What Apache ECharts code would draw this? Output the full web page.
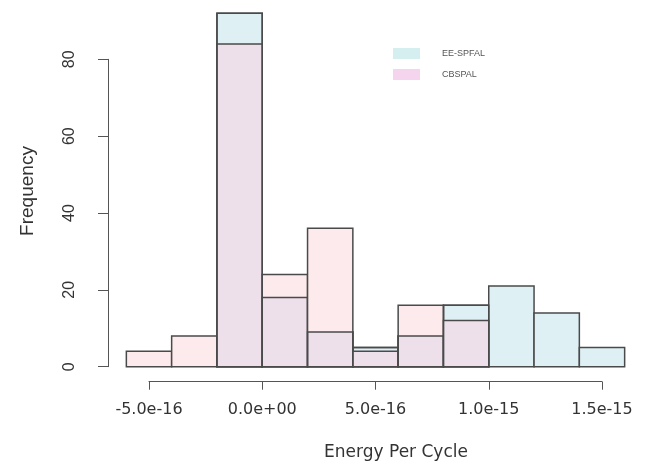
<!DOCTYPE html>
<html>
<head>
<meta charset="utf-8">
<script src="https://cdn.jsdelivr.net/npm/echarts@6/dist/echarts.min.js"></script>
<style>
  html, body { margin: 0; padding: 0; background: #ffffff; }
  #chart { width: 651px; height: 466px; }
</style>
</head>
<body>
<div id="chart"></div>
<script>
// Histogram bins: left and right edges of each bin
const binStarts = [-6e-16, -4e-16, -2e-16, 0, 2e-16, 4e-16, 6e-16, 8e-16, 1.0e-15, 1.2e-15, 1.4e-15];
const binEnds   = [-4e-16, -2e-16, 0, 2e-16, 4e-16, 6e-16, 8e-16, 1.0e-15, 1.2e-15, 1.4e-15, 1.6e-15];

// Frequency per bin for each design
const eeSpfalCounts = [0, 0, 92, 18, 9, 5, 8, 16, 21, 14, 5];
const cbspalCounts  = [4, 8, 84, 24, 36, 4, 16, 12, 0, 0, 0];

// Axis tick labels
const xTickLabels = ['-5.0e-16', '0.0e+00', '5.0e-16', '1.0e-15', '1.5e-15'];
const yTickLabels = ['0', '20', '40', '60', '80'];

const seriesNames = ['EE-SPFAL', 'CBSPAL'];
const axisTitleX = 'Energy Per Cycle';
const axisTitleY = 'Frequency';

// Fill colours: each histogram alone, and where the two overlap
const fillEE = '#def0f4';
const fillCB = '#fdeaec';
const fillBoth = '#ede0eb';
const edgeColor = '#4a4a4a';

// Each item: [binStart, binEnd, count, countOfOtherHistogram]
function toBins(counts, other) {
  return counts.map((c, i) => [binStarts[i], binEnds[i], c, other[i]]);
}

function rectBetween(api, x0, x1, y0, y1, style) {
  const a = api.coord([x0, y1]);
  const b = api.coord([x1, y0]);
  return { type: 'rect', shape: { x: a[0], y: a[1], width: b[0] - a[0], height: b[1] - a[1] }, style: style };
}

// Back histogram: plain fill with outline
function renderBack(params, api) {
  const x0 = api.value(0), x1 = api.value(1), count = api.value(2);
  if (!count) return null;
  return rectBetween(api, x0, x1, 0, count, { fill: fillEE, stroke: edgeColor, lineWidth: 1.5 });
}

// Front histogram: overlap part, own part, then both outlines so edges stay visible
function renderFront(params, api) {
  const x0 = api.value(0), x1 = api.value(1), count = api.value(2), other = api.value(3);
  if (!count) return null;
  const shared = Math.min(count, other);
  const children = [];
  if (shared > 0) children.push(rectBetween(api, x0, x1, 0, shared, { fill: fillBoth }));
  if (count > shared) children.push(rectBetween(api, x0, x1, shared, count, { fill: fillCB }));
  if (other > 0) children.push(rectBetween(api, x0, x1, 0, other, { fill: 'none', stroke: edgeColor, lineWidth: 1.5 }));
  children.push(rectBetween(api, x0, x1, 0, count, { fill: 'none', stroke: edgeColor, lineWidth: 1.5 }));
  return { type: 'group', children: children };
}

const chart = echarts.init(document.getElementById('chart'), null, { renderer: 'canvas' });

chart.setOption({
  animation: false,
  backgroundColor: '#ffffff',
  grid: { left: 149, right: 49, top: 59.3, bottom: 99.3, containLabel: false },
  xAxis: {
    type: 'value',
    min: -5e-16,
    max: 1.5e-15,
    interval: 5e-16,
    offset: 15,
    splitLine: { show: false },
    axisLine: { show: true, onZero: false, lineStyle: { color: '#555', width: 1 } },
    axisTick: { show: true, inside: false, length: 8, lineStyle: { color: '#555', width: 1 } },
    axisLabel: {
      margin: 20,
      fontFamily: 'DejaVu Sans',
      fontSize: 16,
      color: '#333',
      formatter: function (v, idx) { return xTickLabels[idx]; }
    }
  },
  yAxis: {
    type: 'value',
    min: 0,
    max: 80,
    interval: 20,
    offset: 41,
    splitLine: { show: false },
    axisLine: { show: true, onZero: false, lineStyle: { color: '#555', width: 1 } },
    axisTick: { show: true, inside: false, length: 10, lineStyle: { color: '#555', width: 1 } },
    axisLabel: {
      rotate: 90,
      margin: 30,
      fontFamily: 'Liberation Sans',
      fontSize: 16,
      color: '#333',
      formatter: function (v, idx) { return yTickLabels[idx]; }
    }
  },
  legend: {
    orient: 'vertical',
    left: 388,
    top: 43,
    itemWidth: 27,
    itemHeight: 11,
    itemGap: 10,
    icon: 'rect',
    selectedMode: false,
    textStyle: { fontFamily: 'Liberation Sans', fontSize: 9, color: '#555', padding: [0, 0, 0, 17] },
    data: [
      { name: seriesNames[0], itemStyle: { color: '#d5eff1', borderWidth: 0 } },
      { name: seriesNames[1], itemStyle: { color: '#f5d4ee', borderWidth: 0 } }
    ]
  },
  graphic: [
    {
      type: 'text',
      x: 28, y: 191,
      rotation: Math.PI / 2,
      style: {
        text: axisTitleY,
        fontFamily: 'Liberation Sans',
        fontSize: 19,
        fill: '#333',
        align: 'center',
        verticalAlign: 'middle'
      }
    },
    {
      type: 'text',
      x: 396, y: 453,
      style: {
        text: axisTitleX,
        fontFamily: 'DejaVu Sans',
        fontSize: 17,
        fill: '#333',
        align: 'center',
        verticalAlign: 'middle'
      }
    }
  ],
  series: [
    {
      name: seriesNames[0],
      type: 'custom',
      clip: false,
      itemStyle: { color: '#d5eff1' },
      renderItem: renderBack,
      data: toBins(eeSpfalCounts, cbspalCounts),
      z: 2
    },
    {
      name: seriesNames[1],
      type: 'custom',
      clip: false,
      itemStyle: { color: '#f5d4ee' },
      renderItem: renderFront,
      data: toBins(cbspalCounts, eeSpfalCounts),
      z: 3
    }
  ]
});
</script>
</body>
</html>
